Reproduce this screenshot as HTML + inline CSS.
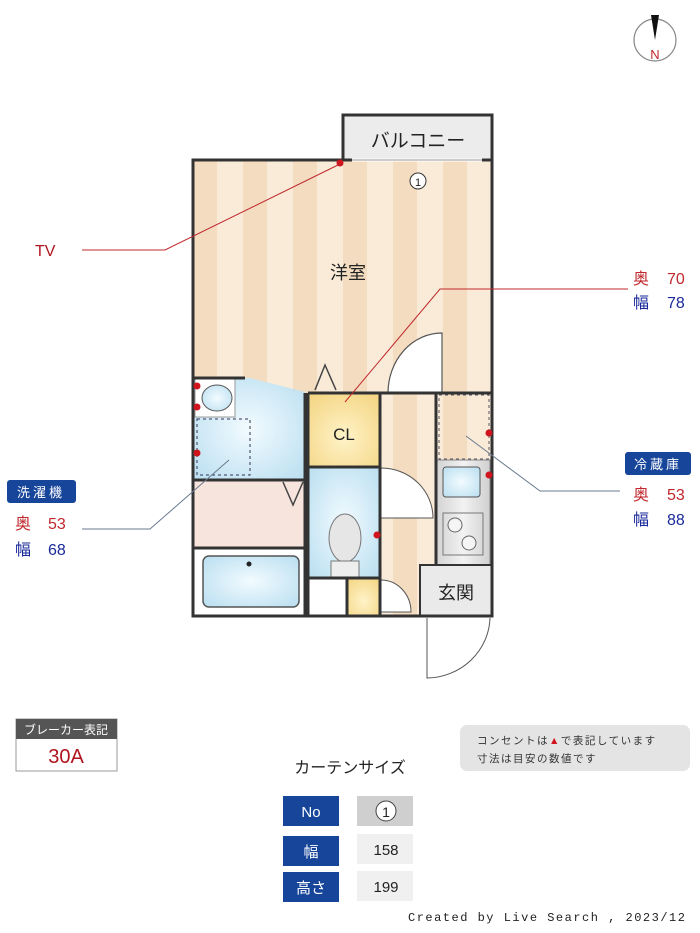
<!DOCTYPE html>
<html><head><meta charset="utf-8"><style>
html,body{margin:0;padding:0;background:#fff;}
svg{display:block;font-family:"Liberation Sans","Noto Sans CJK JP",sans-serif;}
</style></head><body>
<svg width="700" height="933" viewBox="0 0 700 933" xmlns="http://www.w3.org/2000/svg">
<defs>
<pattern id="st" x="193" y="0" width="50" height="10" patternUnits="userSpaceOnUse">
<rect width="50" height="10" fill="#f9ebd8"/><rect x="0" width="24" height="10" fill="#f3dcbf"/>
</pattern>
<radialGradient id="bl" cx="50%" cy="50%" r="70%"><stop offset="0" stop-color="#f2fbff"/><stop offset="1" stop-color="#b9def0"/></radialGradient>
<radialGradient id="yl" cx="50%" cy="60%" r="70%"><stop offset="0" stop-color="#fff3c8"/><stop offset="1" stop-color="#f4d685"/></radialGradient>
<linearGradient id="gr" x1="0" x2="1"><stop offset="0" stop-color="#d4d4d4"/><stop offset=".5" stop-color="#f2f2f2"/><stop offset="1" stop-color="#d0d0d0"/></linearGradient>
</defs>

<!-- compass -->
<circle cx="655" cy="40" r="21" fill="#fff" stroke="#888" stroke-width="1.2"/>
<path d="M651 15 L659 15 L655 40 Z" fill="#111"/>
<text x="655" y="59" font-size="13" fill="#c0282d" text-anchor="middle">N</text>

<!-- balcony -->
<rect x="343" y="115" width="149" height="45" fill="#ececec" stroke="#333" stroke-width="3"/>
<text x="418" y="147" font-size="19" text-anchor="middle" fill="#222">バルコニー</text>

<!-- western room -->
<rect x="193" y="160" width="299" height="240" fill="url(#st)"/>
<rect x="380" y="393" width="56" height="223" fill="url(#st)"/>
<rect x="436" y="393" width="56" height="70" fill="url(#st)"/>
<!-- wash -->
<path d="M193 378 L250 378 L305 392 L305 480 L193 480 Z" fill="url(#bl)"/>
<rect x="195" y="379" width="40" height="38" fill="#fff" stroke="#999"/>
<ellipse cx="217" cy="398" rx="15" ry="13" fill="url(#bl)" stroke="#555"/>
<rect x="197" y="419" width="53" height="56" fill="none" stroke="#335" stroke-dasharray="3,3"/>
<rect x="193" y="480" width="112" height="68" fill="#f7e4dd"/>
<rect x="193" y="548" width="112" height="68" fill="#fff"/>
<rect x="203" y="556" width="96" height="51" rx="6" fill="url(#bl)" stroke="#555" stroke-width="1.5"/>
<circle cx="249" cy="564" r="2.5" fill="#222"/>
<!-- CL -->
<rect x="308" y="393" width="72" height="74" fill="url(#yl)"/>
<text x="344" y="440" font-size="17" text-anchor="middle" fill="#222">CL</text>
<!-- toilet -->
<rect x="308" y="467" width="72" height="111" fill="url(#bl)"/>
<ellipse cx="345" cy="538" rx="16" ry="24" fill="#e6e6e6" stroke="#777"/>
<rect x="331" y="561" width="28" height="17" fill="#eee" stroke="#777"/>
<rect x="308" y="578" width="39" height="38" fill="#fff"/>
<rect x="347" y="578" width="33" height="38" fill="url(#yl)"/>
<!-- kitchen -->
<rect x="437" y="460" width="53" height="105" fill="url(#gr)" stroke="#888"/>
<rect x="443" y="467" width="37" height="30" rx="3" fill="url(#bl)" stroke="#555"/>
<rect x="443" y="513" width="40" height="42" fill="none" stroke="#777"/>
<circle cx="455" cy="525" r="7" fill="#f5f5f5" stroke="#666"/>
<circle cx="469" cy="543" r="7" fill="#f5f5f5" stroke="#666"/>
<rect x="439" y="395" width="50" height="64" fill="none" stroke="#556" stroke-dasharray="3,3"/>
<!-- genkan -->
<rect x="420" y="565" width="72" height="51" fill="#eaeaea" stroke="#333" stroke-width="2"/>
<text x="456" y="599" font-size="18" text-anchor="middle" fill="#222">玄関</text>

<!-- doors -->
<path d="M442 333 L442 393 L388 393 A54 60 0 0 1 442 333 Z" fill="#fff" stroke="#555" stroke-width="1.2"/>
<path d="M381 468 A52 50 0 0 1 433 518 L381 518 Z" fill="#fff" stroke="#555"/>
<path d="M381 580 A30 32 0 0 1 411 612 L381 612 Z" fill="#fff" stroke="#555"/>
<path d="M427 618 L427 678 A64 62 0 0 0 490 618" fill="none" stroke="#555"/>
<path d="M315 390 L325 365 L336 390" fill="none" stroke="#444" stroke-width="1.5"/>
<path d="M283 482 L293 505 L303 482" fill="none" stroke="#444" stroke-width="1.5"/>

<!-- walls -->
<g stroke="#333" stroke-width="3" fill="none">
<rect x="193" y="160" width="299" height="456"/>
<line x1="193" y1="378" x2="245" y2="378"/>
<line x1="305" y1="393" x2="305" y2="616"/>
<line x1="308" y1="393" x2="380" y2="393"/>
<line x1="308" y1="393" x2="308" y2="616"/>
<line x1="380" y1="393" x2="380" y2="616"/>
<line x1="380" y1="393" x2="492" y2="393"/>
<line x1="308" y1="467" x2="380" y2="467"/>
<line x1="308" y1="578" x2="380" y2="578"/>
<line x1="347" y1="578" x2="347" y2="616"/>
<line x1="193" y1="480" x2="305" y2="480"/>
<line x1="193" y1="548" x2="305" y2="548"/>
<line x1="436" y1="393" x2="436" y2="565"/>
</g>
<line x1="352" y1="160" x2="482" y2="160" stroke="#fff" stroke-width="3"/>
<line x1="352" y1="160" x2="482" y2="160" stroke="#999" stroke-width="1"/>
<circle cx="418" cy="181" r="8" fill="#fff" stroke="#333"/>
<text x="418" y="186" font-size="11" text-anchor="middle" fill="#222">1</text>
<text x="348" y="279" font-size="18" text-anchor="middle" fill="#222">洋室</text>

<!-- outlets -->
<g fill="#d0141e">
<circle cx="340" cy="163" r="3.5"/><circle cx="197" cy="386" r="3.5"/><circle cx="197" cy="407" r="3.5"/>
<circle cx="197" cy="453" r="3.5"/><circle cx="377" cy="535" r="3.5"/><circle cx="489" cy="433" r="3.5"/><circle cx="489" cy="475" r="3.5"/>
</g>

<!-- leader lines -->
<polyline points="82,250 165,250 340,164" fill="none" stroke="#c0282d" stroke-width="1"/>
<polyline points="628,289 440,289 345,402" fill="none" stroke="#c0282d" stroke-width="1"/>
<polyline points="82,529 150,529 229,460" fill="none" stroke="#6a7a90" stroke-width="1"/>
<polyline points="620,491 540,491 466,436" fill="none" stroke="#6a7a90" stroke-width="1"/>

<text x="35" y="256" font-size="16" fill="#b0141e">TV</text>
<g font-size="16">
<text x="633" y="284" fill="#c0282d">奥</text><text x="667" y="284" fill="#c0282d">70</text>
<text x="633" y="308" fill="#1a2a9a">幅</text><text x="667" y="308" fill="#1a2a9a">78</text>
<text x="15" y="529" fill="#c0282d">奥</text><text x="48" y="529" fill="#c0282d">53</text>
<text x="15" y="555" fill="#1a2a9a">幅</text><text x="48" y="555" fill="#1a2a9a">68</text>
<text x="633" y="500" fill="#c0282d">奥</text><text x="667" y="500" fill="#c0282d">53</text>
<text x="633" y="525" fill="#1a2a9a">幅</text><text x="667" y="525" fill="#1a2a9a">88</text>
</g>
<rect x="7" y="480" width="69" height="23" rx="3" fill="#17459a"/>
<text x="41" y="497" font-size="13" fill="#fff" text-anchor="middle" letter-spacing="3">洗濯機</text>
<rect x="625" y="452" width="66" height="23" rx="3" fill="#17459a"/>
<text x="658" y="469" font-size="13" fill="#fff" text-anchor="middle" letter-spacing="3">冷蔵庫</text>

<!-- breaker -->
<rect x="16" y="719" width="101" height="52" fill="#fff" stroke="#999"/>
<rect x="16" y="719" width="101" height="20" fill="#555"/>
<text x="66" y="734" font-size="12" fill="#fff" text-anchor="middle">ブレーカー表記</text>
<text x="66" y="763" font-size="20" fill="#b0141e" text-anchor="middle">30A</text>

<!-- note -->
<rect x="460" y="725" width="230" height="46" rx="7" fill="#e4e4e4"/>
<text x="477" y="744" font-size="10.5" fill="#333" letter-spacing="1.5">コンセントは<tspan fill="#d0141e">▲</tspan>で表記しています</text>
<text x="477" y="762" font-size="10.5" fill="#333" letter-spacing="1.5">寸法は目安の数値です</text>

<!-- curtain -->
<text x="350" y="773" font-size="16" fill="#222" text-anchor="middle">カーテンサイズ</text>
<rect x="283" y="796" width="56" height="30" fill="#17459a"/>
<rect x="283" y="836" width="56" height="30" fill="#17459a"/>
<rect x="283" y="872" width="56" height="30" fill="#17459a"/>
<text x="311" y="817" font-size="15" fill="#fff" text-anchor="middle">No</text>
<text x="311" y="857" font-size="15" fill="#fff" text-anchor="middle">幅</text>
<text x="311" y="893" font-size="15" fill="#fff" text-anchor="middle">高さ</text>
<rect x="357" y="796" width="56" height="30" fill="#cfcfcf"/>
<rect x="357" y="834" width="56" height="30" fill="#f0f0f0"/>
<rect x="357" y="871" width="56" height="30" fill="#f0f0f0"/>
<circle cx="386" cy="811" r="10" fill="#fff" stroke="#444"/>
<text x="386" y="817" font-size="14" fill="#222" text-anchor="middle">1</text>
<text x="386" y="855" font-size="15" fill="#222" text-anchor="middle">158</text>
<text x="386" y="892" font-size="15" fill="#222" text-anchor="middle">199</text>

<text x="408" y="921" font-size="12" font-family="Liberation Mono, monospace" fill="#222" letter-spacing="1.5">Created by Live Search , 2023/12</text>
</svg>
</body></html>
